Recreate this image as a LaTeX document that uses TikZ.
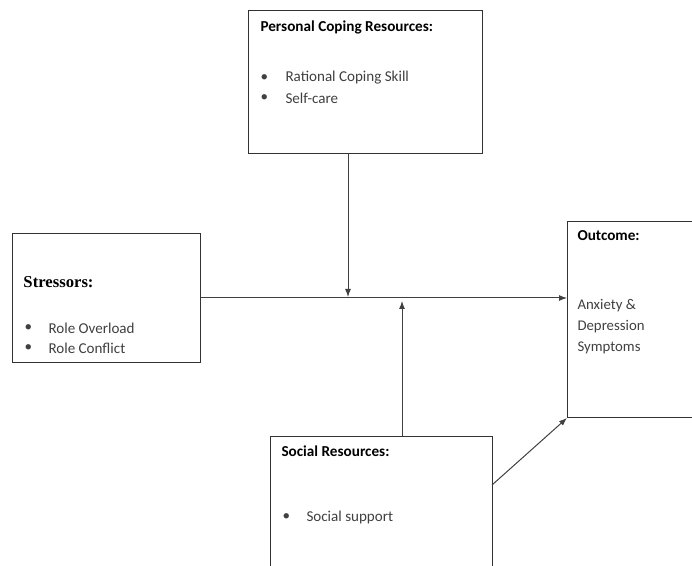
\documentclass[tikz,border=0pt]{standalone}
\usepackage{fontspec}
\usetikzlibrary{arrows.meta}
\setmainfont{Carlito}
\newfontfamily\headserif{Liberation Serif}
\tikzset{every picture/.style={line width=0.75pt}}
\tikzset{
  framebox/.style={draw=black!80, anchor=north west, inner sep=0pt},
  headtext/.style={anchor=west, inner sep=0.75pt, font=\fontsize{11.4}{13}\selectfont\bfseries},
  bodytext/.style={anchor=west, inner sep=0.75pt, text=black!75, font=\fontsize{11.3}{13}\selectfont},
  flowline/.style={draw=black!75, -{Latex[length=6pt, width=4.5pt]}},
}

\begin{document}
\begin{tikzpicture}[x=0.75pt,y=0.75pt,yscale=-1, xscale=1]
\path[use as bounding box] (0,0) rectangle (692,566);
\clip (0,0) rectangle (692,566);

%Shape: Rectangle [personal]
\node[framebox, minimum width=175.5pt, minimum height=107.25pt] (personal) at (248,10) {};
%Shape: Rectangle [stressors]
\node[framebox, minimum width=141pt, minimum height=96.75pt] (stressors) at (12,233) {};
%Shape: Rectangle [outcome]
\node[framebox, minimum width=100pt, minimum height=147pt] (outcome) at (567,221) {};
%Shape: Rectangle [social]
\node[framebox, minimum width=166.5pt, minimum height=120pt] (social) at (270,436) {};

% Text Node
\node[headtext] (personalhead) at (259,27) {Personal Coping Resources:};
% Text Node
\node[bodytext] (personalbul1) at (259,78) {•};
\node[bodytext] (personalitem1) at (284,78) {Rational Coping Skill};
% Text Node
\node[bodytext] (personalbul2) at (259,98) {•};
\node[bodytext] (personalitem2) at (284,98) {Self-care};

% Text Node
\node[headtext, font=\headserif\fontsize{12.5}{14}\selectfont\bfseries] (stresshead) at (22,282) {Stressors:};
% Text Node
\node[bodytext] (stressbul1) at (23,328) {•};
\node[bodytext] (stressitem1) at (47,328) {Role Overload};
% Text Node
\node[bodytext] (stressbul2) at (23,348) {•};
\node[bodytext] (stressitem2) at (47,348) {Role Conflict};

% Text Node
\node[headtext] (outcomehead) at (576,236) {Outcome:};
% Text Node
\node[bodytext, align=left, anchor=north west, font=\fontsize{11.1}{15.5}\selectfont] (outcometext) at (576,298) {Anxiety \&\\Depression\\Symptoms};

% Text Node
\node[headtext] (socialhead) at (280,451) {Social Resources:};
% Text Node
\node[bodytext] (socialbul) at (281,517) {•};
\node[bodytext] (socialitem) at (305,517) {Social support};

% Connectors
\coordinate (downend) at (348,297);
\coordinate (upend) at (402,301);
\coordinate (socialout) at (492,485);
\draw[flowline] (stressors.east) -- (stressors.east -| outcome.west);
\draw[flowline] (personal.south -| downend) -- (downend);
\draw[flowline] (social.north -| upend) -- (upend);
\draw[flowline] (socialout) -- (outcome.south west);
\end{tikzpicture}
\end{document}
